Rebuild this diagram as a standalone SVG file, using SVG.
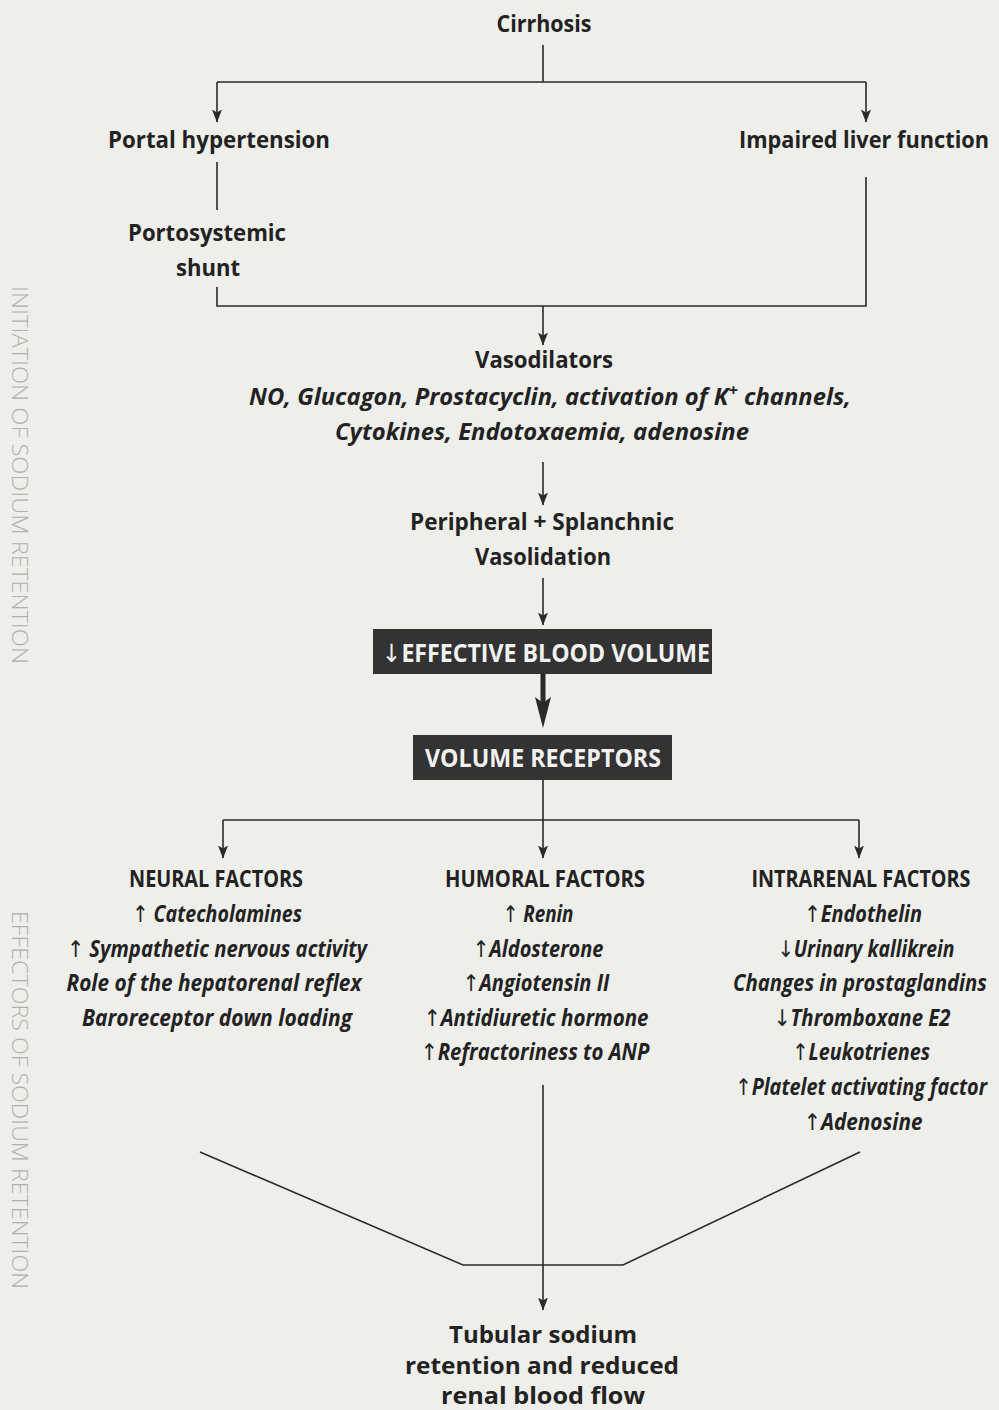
<svg xmlns="http://www.w3.org/2000/svg" width="999" height="1410" viewBox="0 0 999 1410">
<defs>
<marker id="ah" markerWidth="13" markerHeight="10" refX="12.5" refY="5" orient="auto" markerUnits="userSpaceOnUse" viewBox="0 0 13 10">
<path d="M0,0 L13,5 L0,10 L3,5 Z" fill="#2a2a2a"/>
</marker>
<marker id="ahBig" markerWidth="31" markerHeight="16" refX="8" refY="8" orient="auto" markerUnits="userSpaceOnUse" viewBox="0 0 31 16">
<path d="M0,0 L31,8 L0,16 L6,8 Z" fill="#2a2a2a"/>
</marker>
<style>
.t{font-family:"Open Sans","Liberation Sans",sans-serif;font-weight:700;font-size:24px;fill:#222;text-anchor:middle}
.i{font-family:"Open Sans","Liberation Sans",sans-serif;font-weight:700;font-style:italic;font-size:23px;fill:#222;text-anchor:middle}
.w{font-family:"Open Sans","Liberation Sans",sans-serif;font-weight:700;font-size:25px;fill:#f2f2f2;text-anchor:middle}
.side{font-family:"Open Sans","Liberation Sans",sans-serif;font-weight:300;font-size:22px;fill:#b0b0b0;text-anchor:middle}
.ar{font-family:"DejaVu Sans",sans-serif;font-style:normal;font-weight:normal}
.l{fill:none;stroke:#2a2a2a;stroke-width:1.6}
.la{fill:none;stroke:#2a2a2a;stroke-width:1.6;marker-end:url(#ah)}
.box{fill:#333}
</style>
</defs>
<rect width="999" height="1410" fill="#eeeeeb"/>

<text class="side" transform="translate(12,475) rotate(90)" textLength="378" lengthAdjust="spacingAndGlyphs">INITIATION OF SODIUM RETENTION</text>
<text class="side" transform="translate(12,1100) rotate(90)" textLength="378" lengthAdjust="spacingAndGlyphs">EFFECTORS OF SODIUM RETENTION</text>

<g id="connectors">
<path class="l" d="M543,45 V82 M217,82 H866"/>
<path class="la" d="M217,82 V122"/>
<path class="la" d="M866,82 V122"/>
<path class="l" d="M217,162 V210"/>
<path class="l" d="M217,287 V306 H866 V177"/>
<path class="la" d="M543,306 V345"/>
<path class="la" d="M543,462 V505"/>
<path class="la" d="M543,578 V625"/>
<path d="M543,674 V705" fill="none" stroke="#2a2a2a" stroke-width="5" marker-end="url(#ahBig)"/>
<path class="l" d="M543,780 V820 M223,820 H859"/>
<path class="la" d="M223,820 V858"/>
<path class="la" d="M543,820 V858"/>
<path class="la" d="M859,820 V858"/>
<path class="la" d="M543,1085 V1310"/>
<path class="l" d="M200,1152 L463,1265 H623 L860,1152"/>
</g>

<g id="cirrhosis"><text class="t" x="544" y="32" textLength="95" lengthAdjust="spacingAndGlyphs">Cirrhosis</text></g>
<g id="portal"><text class="t" x="219" y="148" textLength="222" lengthAdjust="spacingAndGlyphs">Portal hypertension</text></g>
<g id="impaired"><text class="t" x="864" y="148" textLength="250" lengthAdjust="spacingAndGlyphs">Impaired liver function</text></g>
<g id="shunt">
<text class="t" x="207" y="241" textLength="158" lengthAdjust="spacingAndGlyphs">Portosystemic</text>
<text class="t" x="208" y="276" textLength="64" lengthAdjust="spacingAndGlyphs">shunt</text>
</g>
<g id="vasodilators">
<text class="t" x="544" y="368" textLength="138" lengthAdjust="spacingAndGlyphs">Vasodilators</text>
<text class="i" x="550" y="405" textLength="602" lengthAdjust="spacingAndGlyphs">NO, Glucagon, Prostacyclin, activation of K<tspan dy="-9" font-size="16">+</tspan><tspan dy="9"> channels,</tspan></text>
<text class="i" x="542" y="440" textLength="414" lengthAdjust="spacingAndGlyphs">Cytokines, Endotoxaemia, adenosine</text>
</g>
<g id="vasolidation">
<text class="t" x="542" y="530" textLength="264" lengthAdjust="spacingAndGlyphs">Peripheral + Splanchnic</text>
<text class="t" x="543" y="565" textLength="136" lengthAdjust="spacingAndGlyphs">Vasolidation</text>
</g>
<g id="ebv">
<rect class="box" x="373" y="629" width="339" height="45"/>
<text class="w" x="546" y="662" textLength="328" lengthAdjust="spacingAndGlyphs"><tspan class="ar">↓</tspan>EFFECTIVE BLOOD VOLUME</text>
</g>
<g id="receptors">
<rect class="box" x="413" y="735" width="259" height="45"/>
<text class="w" x="543" y="767" textLength="236" lengthAdjust="spacingAndGlyphs">VOLUME RECEPTORS</text>
</g>
<g id="neural">
<text class="t" x="216" y="887" textLength="174" lengthAdjust="spacingAndGlyphs">NEURAL FACTORS</text>
<text class="i" x="217" y="922" textLength="170" lengthAdjust="spacingAndGlyphs"><tspan class="ar">↑</tspan> Catecholamines</text>
<text class="i" x="217" y="957" textLength="300" lengthAdjust="spacingAndGlyphs"><tspan class="ar">↑</tspan> Sympathetic nervous activity</text>
<text class="i" x="214" y="991" textLength="295" lengthAdjust="spacingAndGlyphs">Role of the hepatorenal reflex</text>
<text class="i" x="217" y="1026" textLength="270" lengthAdjust="spacingAndGlyphs">Baroreceptor down loading</text>
</g>
<g id="humoral">
<text class="t" x="545" y="887" textLength="200" lengthAdjust="spacingAndGlyphs">HUMORAL FACTORS</text>
<text class="i" x="538" y="922" textLength="71" lengthAdjust="spacingAndGlyphs"><tspan class="ar">↑</tspan> Renin</text>
<text class="i" x="538" y="957" textLength="131" lengthAdjust="spacingAndGlyphs"><tspan class="ar">↑</tspan>Aldosterone</text>
<text class="i" x="536" y="991" textLength="147" lengthAdjust="spacingAndGlyphs"><tspan class="ar">↑</tspan>Angiotensin II</text>
<text class="i" x="536" y="1026" textLength="225" lengthAdjust="spacingAndGlyphs"><tspan class="ar">↑</tspan>Antidiuretic hormone</text>
<text class="i" x="535" y="1060" textLength="229" lengthAdjust="spacingAndGlyphs"><tspan class="ar">↑</tspan>Refractoriness to ANP</text>
</g>
<g id="intrarenal">
<text class="t" x="861" y="887" textLength="219" lengthAdjust="spacingAndGlyphs">INTRARENAL FACTORS</text>
<text class="i" x="863" y="922" textLength="118" lengthAdjust="spacingAndGlyphs"><tspan class="ar">↑</tspan>Endothelin</text>
<text class="i" x="866" y="957" textLength="177" lengthAdjust="spacingAndGlyphs"><tspan class="ar">↓</tspan>Urinary kallikrein</text>
<text class="i" x="860" y="991" textLength="254" lengthAdjust="spacingAndGlyphs">Changes in prostaglandins</text>
<text class="i" x="862" y="1026" textLength="177" lengthAdjust="spacingAndGlyphs"><tspan class="ar">↓</tspan>Thromboxane E2</text>
<text class="i" x="861" y="1060" textLength="138" lengthAdjust="spacingAndGlyphs"><tspan class="ar">↑</tspan>Leukotrienes</text>
<text class="i" x="861" y="1095" textLength="252" lengthAdjust="spacingAndGlyphs"><tspan class="ar">↑</tspan>Platelet activating factor</text>
<text class="i" x="863" y="1130" textLength="119" lengthAdjust="spacingAndGlyphs"><tspan class="ar">↑</tspan>Adenosine</text>
</g>
<g id="tubular">
<text class="t" x="543" y="1343" textLength="188" lengthAdjust="spacingAndGlyphs">Tubular sodium</text>
<text class="t" x="542" y="1374" textLength="274" lengthAdjust="spacingAndGlyphs">retention and reduced</text>
<text class="t" x="543" y="1404" textLength="204" lengthAdjust="spacingAndGlyphs">renal blood flow</text>
</g>
</svg>
